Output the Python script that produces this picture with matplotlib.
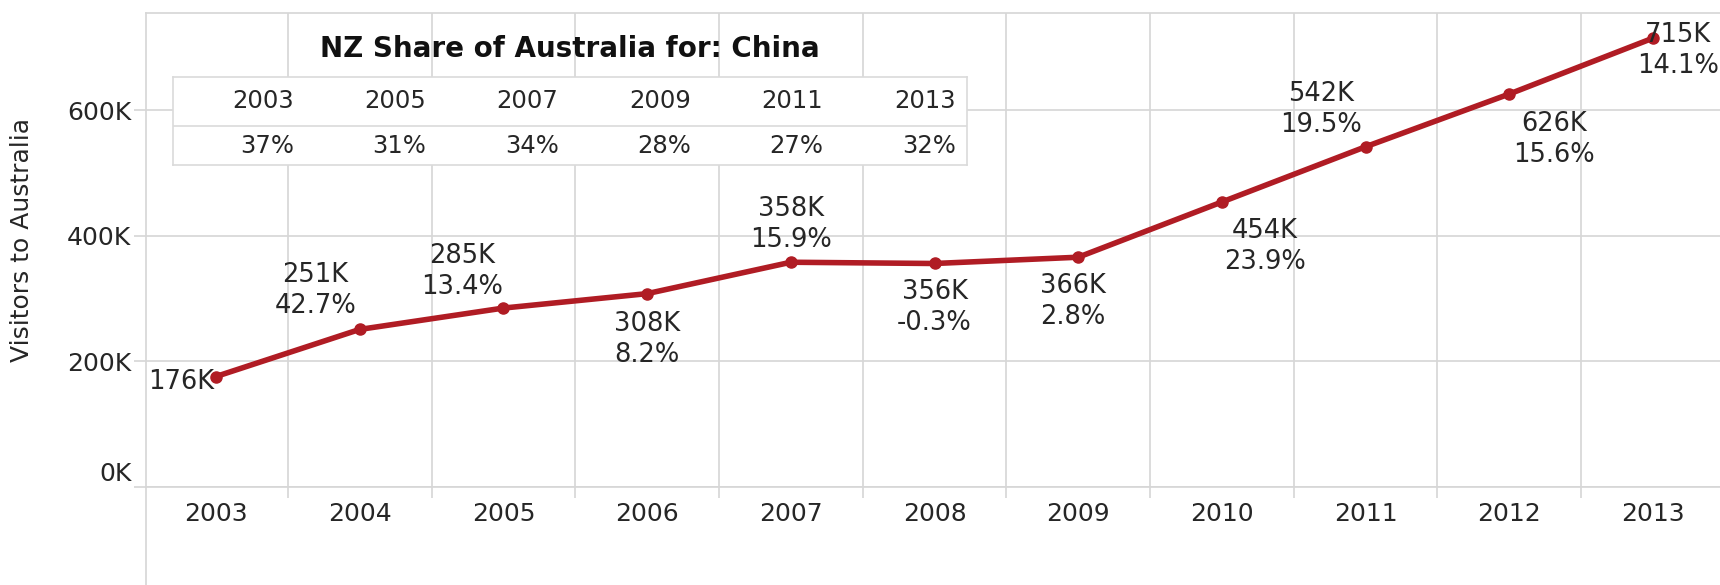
import numpy as np
import matplotlib
matplotlib.use('Agg')
import matplotlib.pyplot as plt
import matplotlib.transforms as mtransforms
from matplotlib.lines import Line2D

# visitors from China to Australia (thousands)
years = [2003, 2004, 2005, 2006, 2007, 2008, 2009, 2010, 2011, 2012, 2013]
visitors = [176, 251, 285, 308, 358, 356, 366, 454, 542, 626, 715]
growth = [None, '42.7%', '13.4%', '8.2%', '15.9%', '-0.3%', '2.8%', '23.9%', '19.5%', '15.6%', '14.1%']

# NZ share table
share_years = ['2003', '2005', '2007', '2009', '2011', '2013']
share_pct = ['37%', '31%', '34%', '28%', '27%', '32%']

# label offsets in points (dx, dy) so they don't sit on the line
label_offsets = [(-25, -4), (-32, 28), (-30, 26), (0, -33), (0, 27), (0, -32),
                 (-4, -32), (31, -32), (-32, 27), (32, -33), (18, -9)]

W, H = 1720, 585
red = '#b01c24'
grid_c = '#d6d6d6'
text_c = '#262626'
fs = 18.5

plt.rcParams['font.family'] = 'DejaVu Sans'

fig = plt.figure(figsize=(W / 100, H / 100), dpi=100)
ax = fig.add_axes([146 / W, (H - 487) / H, 1 - 146 / W, (487 - 13) / H])

ax.plot(years, visitors, color=red, lw=4, marker='o', ms=8, solid_capstyle='round', zorder=3)

for yr, v, g, (dx, dy) in zip(years, visitors, growth, label_offsets):
    txt = f'{v}K' if g is None else f'{v}K\n{g}'
    ax.annotate(txt, (yr, v), xytext=(dx, dy), textcoords='offset points',
                ha='center', va='center', fontsize=fs, color=text_c,
                linespacing=1.25, zorder=4, annotation_clip=False)

ax.set_xlim(2002.513, 2013.466)
ax.set_ylim(0, 755)

ax.set_yticks([0, 200, 400, 600])
ax.set_yticklabels(['0K', '200K', '400K', '600K'])
ax.set_xticks(years)
ax.set_xticks(np.array(years[:-1]) + 0.5, minor=True)

ax.tick_params(axis='y', length=9, width=1.2, color=grid_c, pad=1.5,
               labelsize=18, labelcolor=text_c)
ax.tick_params(axis='x', which='major', length=0, pad=11,
               labelsize=18, labelcolor=text_c)
ax.tick_params(axis='x', which='minor', length=8, width=1.2, color=grid_c)

# 0K label sits a little above its gridline
lab0 = ax.get_yticklabels()[0]
lab0.set_transform(lab0.get_transform() + mtransforms.ScaledTranslation(0, 11 / 72, fig.dpi_scale_trans))

ax.grid(axis='y', which='major', color=grid_c, lw=1.2)
ax.grid(axis='x', which='minor', color=grid_c, lw=1.2)
ax.set_axisbelow(True)

for side in ['top', 'left', 'bottom']:
    ax.spines[side].set_color(grid_c)
    ax.spines[side].set_linewidth(1.2)
ax.spines['right'].set_visible(False)

# left pane border continues down past the year labels
fig.add_artist(Line2D([146 / W, 146 / W], [0, (H - 487) / H], color=grid_c, lw=1.2))

fig.text(22 / W, 1 - 240 / H, 'Visitors to Australia', rotation=90,
         ha='center', va='center', fontsize=18, color=text_c)

# share table
tx = fig.add_axes([173 / W, (H - 165) / H, (967 - 173) / W, (165 - 77) / H])
tx.set_xlim(0, len(share_years))
tx.set_ylim(0, 1)
tx.set_xticks([])
tx.set_yticks([])
tx.set_facecolor('white')
for s in tx.spines.values():
    s.set_color('#dadada')
    s.set_linewidth(1.2)
tx.axhline(0.443, color='#dadada', lw=1.2)
for i, (y, p) in enumerate(zip(share_years, share_pct)):
    tx.text(i + 0.914, 0.727, y, ha='right', va='center', fontsize=17.5, color=text_c)
    tx.text(i + 0.914, 0.216, p, ha='right', va='center', fontsize=17.5, color=text_c)
tx.text(len(share_years) / 2, 1.318, 'NZ Share of Australia for: China', ha='center', va='center',
        fontsize=20, fontweight='bold', color='#111111', clip_on=False)

fig.savefig('out.png', dpi=100)
